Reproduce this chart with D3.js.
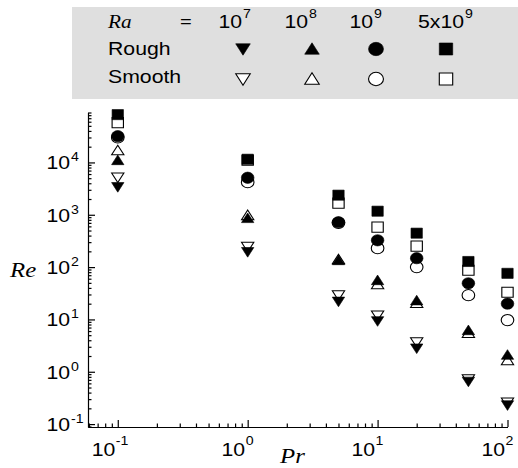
<!DOCTYPE html>
<html>
<head>
<meta charset="utf-8">
<title>Re vs Pr</title>
<script src="https://cdn.jsdelivr.net/npm/d3@7"></script>
<style>
  body { margin: 0; background: #fff; }
  svg { display: block; }
</style>
</head>
<body>
<div id="chart"></div>
<script>
// data
var pr = [0.1, 1, 5, 10, 20, 50, 100];
var raLabels = [["10", "7"], ["10", "8"], ["10", "9"], ["5x10", "9"]];

// Re for rough (filled) and smooth (open) plates, one list per Ra
var rough1e7  = [3400, 195, 22, 9.3, 2.8, 0.65, 0.23];
var smooth1e7 = [5200, 245, 29, 12, 3.7, 0.72, 0.26];
var rough1e8  = [11000, 860, 135, 56, 23, 6.2, 2.1];
var smooth1e8 = [17000, 980, 140, 47, 20.5, 5.5, 1.66];
var rough1e9  = [31800, 5100, 720, 325, 148, 49, 20];
var smooth1e9 = [30000, 4200, 700, 230, 100, 29, 9.7];
var rough5e9  = [82000, 11500, 2370, 1170, 445, 128, 76];
var smooth5e9 = [57700, 11000, 1670, 580, 251, 87, 33];

var yTicks = [-1, 0, 1, 2, 3, 4];
var xTicks = [-1, 0, 1, 2];

var width = 518, height = 468;
var SX = 1.18; // glyphs in the original are stretched sideways

var svg = d3.select("#chart").append("svg")
  .attr("width", width)
  .attr("height", height);

var x = d3.scaleLog().domain([0.059, 100]).range([88, 507.5]);
var y = d3.scaleLog().domain([0.088, 90000]).range([427, 112.5]);

function label(g, px, py, str, size, family, style, anchor) {
  return g.append("text")
    .attr("transform", "translate(" + px + "," + py + ") scale(" + SX + ",1)")
    .attr("font-size", size)
    .attr("font-family", family)
    .attr("font-style", style || "normal")
    .attr("text-anchor", anchor || "start")
    .attr("fill", "#000")
    .text(str);
}
var sans = "'Liberation Sans', Arial, Helvetica, sans-serif";
var serif = "'Liberation Serif', 'Times New Roman', serif";

// ---- legend box
var leg = svg.append("g");
leg.append("rect")
  .attr("x", 72).attr("y", 7)
  .attr("width", width - 72).attr("height", 92)
  .attr("fill", "#dfdfdf");

// ---- marker shapes
function shape(kind, s) {
  // s = overall size in px
  var h = s / 2;
  if (kind == "down") return "M" + (-h) + "," + (-h * 0.8) + "L" + h + "," + (-h * 0.8) + "L0," + (h * 0.95) + "Z";
  if (kind == "up") return "M" + (-h) + "," + (h * 0.8) + "L" + h + "," + (h * 0.8) + "L0," + (-h * 0.95) + "Z";
  if (kind == "circle") return d3.symbol().type(d3.symbolCircle).size(Math.PI * h * h * 1.05)();
  return "M" + (-h * 0.92) + "," + (-h * 0.92) + "h" + (h * 1.84) + "v" + (h * 1.84) + "h" + (-h * 1.84) + "Z";
}
var kinds = ["down", "up", "circle", "square"];
var rough = [rough1e7, rough1e8, rough1e9, rough5e9];
var smooth = [smooth1e7, smooth1e8, smooth1e9, smooth5e9];

function marker(g, px, py, kind, filled, s) {
  g.append("path")
    .attr("d", shape(kind, s))
    .attr("transform", "translate(" + px + "," + py + ") scale(1.12,1)")
    .attr("fill", filled ? "#000" : "#fff")
    .attr("stroke", "#000")
    .attr("stroke-width", filled ? 0.6 : 1);
}

// legend content
label(leg, 108, 28, "Ra", 18, serif, "italic");
label(leg, 180, 27, "=", 17, sans);
label(leg, 108, 55, "Rough", 18, sans);
label(leg, 108, 83, "Smooth", 18, sans);
var textX = [242, 308, 373, 464];
var markX = [243, 312, 376, 446];
raLabels.forEach(function(r, i) {
  label(leg, textX[i], 28, r[0], 18, sans, "normal", "end");
  label(leg, textX[i] + 1, 18, r[1], 12, sans);
  marker(leg, markX[i], 49, kinds[i], true, 13);
  marker(leg, markX[i], 79, kinds[i], false, 13);
});

// ---- axes
var gy = svg.append("g").attr("transform", "translate(88,0)");
gy.call(d3.axisLeft(y).tickValues(yTicks.map(function(e) { return Math.pow(10, e); }))
  .tickSize(-7).tickSizeOuter(0).tickFormat(""));
var yMinor = [];
for (var e = -2; e <= 4; e++) for (var m = 2; m <= 9; m++) {
  var v = m * Math.pow(10, e);
  if (v >= y.domain()[0] && v <= y.domain()[1]) yMinor.push(v);
}
gy.append("g").call(d3.axisLeft(y).tickValues(yMinor).tickSize(-3.5).tickFormat(""))
  .select(".domain").remove();

var gx = svg.append("g").attr("transform", "translate(0,427)");
gx.call(d3.axisBottom(x).tickValues(xTicks.map(function(e) { return Math.pow(10, e); }))
  .tickSize(-7).tickSizeOuter(0).tickFormat(""));
var xMinor = [];
for (var e2 = -2; e2 <= 1; e2++) for (var m2 = 2; m2 <= 9; m2++) {
  var v2 = m2 * Math.pow(10, e2);
  if (v2 >= x.domain()[0] && v2 <= x.domain()[1]) xMinor.push(v2);
}
gx.append("g").call(d3.axisBottom(x).tickValues(xMinor).tickSize(-3.5).tickFormat(""))
  .select(".domain").remove();

svg.selectAll(".domain, .tick line").attr("stroke", "#000").attr("stroke-width", 1.2);

// tick labels as 10 with a raised exponent
yTicks.forEach(function(e) {
  var py = y(Math.pow(10, e));
  label(svg, 70, py + 7, "10", 18, sans, "normal", "end");
  label(svg, 71, py - 1, String(e), 12, sans);
});
xTicks.forEach(function(e) {
  var px = x(Math.pow(10, e));
  label(svg, px - 2.5, 456, "10", 18, sans, "normal", "end");
  label(svg, px - 2, 445, String(e), 12, sans);
});

label(svg, 10, 277, "Re", 21, serif, "italic");
label(svg, 280, 463, "Pr", 21, serif, "italic");

// ---- data points: open markers first, filled on top
var pts = svg.append("g");
smooth.forEach(function(series, i) {
  series.forEach(function(v, j) { marker(pts, x(pr[j]), y(v), kinds[i], false, 11); });
});
rough.forEach(function(series, i) {
  series.forEach(function(v, j) { marker(pts, x(pr[j]), y(v), kinds[i], true, 11); });
});
</script>
</body>
</html>
